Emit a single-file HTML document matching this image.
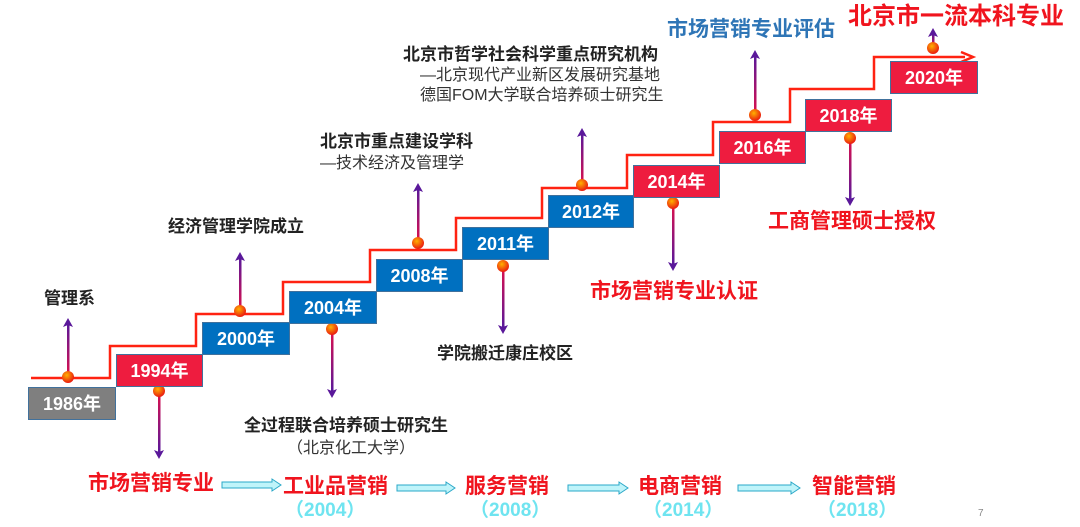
<!DOCTYPE html>
<html><head><meta charset="utf-8">
<style>
body{margin:0;background:#fff;}
#c{position:relative;width:1080px;height:527px;overflow:hidden;font-family:"Liberation Sans","Noto Sans CJK SC",sans-serif;}
.t{position:absolute;white-space:nowrap;line-height:1;}
.b{font-weight:bold;font-size:17px;color:#222;}
.n{font-size:16px;color:#333;}
.r{font-weight:bold;font-size:21px;color:#f0141e;}
.cy{font-weight:bold;font-size:19px;color:#6fe4f0;}
.y{position:absolute;color:#fff;font-weight:bold;font-size:18px;text-align:center;line-height:33px;height:33px;border:1px solid #41719c;box-sizing:border-box;}
.g{background:#7f7f7f}.rd{background:#ee1c3f}.bl{background:#0070c0}
</style></head><body><div id="c">
<svg width="1080" height="527" style="position:absolute;left:0;top:0">
<defs>
<radialGradient id="dg" cx="0.4" cy="0.35" r="0.7"><stop offset="0" stop-color="#ffb000"/><stop offset="1" stop-color="#e81010"/></radialGradient>
<linearGradient id="up" x1="0" y1="1" x2="0" y2="0"><stop offset="0" stop-color="#e0104a"/><stop offset="1" stop-color="#5a189a"/></linearGradient>
<linearGradient id="dn" x1="0" y1="0" x2="0" y2="1"><stop offset="0" stop-color="#e0104a"/><stop offset="1" stop-color="#5a189a"/></linearGradient>
</defs>
<path d="M31 378 H110 V346 H196 V314 H283 V282 H370 V250 H456 V218 H542 V188 H627 V155 H713 V122 H790 V89 H874 V57 H965" fill="none" stroke="#f21" stroke-width="2.5"/>
<path d="M961 52 L973 57 L961 62" fill="none" stroke="#f21" stroke-width="2.5"/>
<g>
<rect x="67" y="324" width="2.5" height="53" fill="url(#up)"/>
<rect x="239" y="258" width="2.5" height="53" fill="url(#up)"/>
<rect x="417" y="189" width="2.5" height="54" fill="url(#up)"/>
<rect x="581" y="134" width="2.5" height="51" fill="url(#up)"/>
<rect x="754" y="56" width="2.5" height="59" fill="url(#up)"/>
<rect x="932" y="34" width="2.5" height="14" fill="url(#up)"/>
<rect x="158" y="391" width="2.5" height="61" fill="url(#dn)"/>
<rect x="331" y="329" width="2.5" height="62" fill="url(#dn)"/>
<rect x="502" y="266" width="2.5" height="61" fill="url(#dn)"/>
<rect x="672" y="203" width="2.5" height="61" fill="url(#dn)"/>
<rect x="849" y="138" width="2.5" height="61" fill="url(#dn)"/>
</g>
<g fill="#5a189a">
<path d="M63 327 L68 318 L73 327 L68 325Z"/><path d="M235 261 L240 252 L245 261 L240 259Z"/><path d="M413 192 L418 183 L423 192 L418 190Z"/>
<path d="M577 137 L582 128 L587 137 L582 135Z"/><path d="M750 59 L755 50 L760 59 L755 57Z"/><path d="M928 37 L933 28 L938 37 L933 35Z"/>
<path d="M154 450 L159 459 L164 450 L159 452Z"/><path d="M327 389 L332 398 L337 389 L332 391Z"/><path d="M498 325 L503 334 L508 325 L503 327Z"/>
<path d="M668 262 L673 271 L678 262 L673 264Z"/><path d="M845 197 L850 206 L855 197 L850 199Z"/>
</g>
<g fill="url(#dg)">
<circle cx="68" cy="377" r="6"/><circle cx="240" cy="311" r="6"/><circle cx="418" cy="243" r="6"/><circle cx="582" cy="185" r="6"/><circle cx="755" cy="115" r="6"/><circle cx="933" cy="48" r="6"/>
<circle cx="159" cy="391" r="6"/><circle cx="332" cy="329" r="6"/><circle cx="503" cy="266" r="6"/><circle cx="673" cy="203" r="6"/><circle cx="850" cy="138" r="6"/>
</g>
<g fill="#bff4fa" stroke="#2aa8c8" stroke-width="1">
<path d="M222 482 H272 V479 L281 485 L272 491 V488 H222 Z"/>
<path d="M397 485 H446 V482 L455 488 L446 494 V491 H397 Z"/>
<path d="M568 485 H619 V482 L628 488 L619 494 V491 H568 Z"/>
<path d="M738 485 H791 V482 L800 488 L791 494 V491 H738 Z"/>
</g>
</svg>
<div class="y g" style="left:28px;top:387px;width:88px">1986年</div>
<div class="y rd" style="left:116px;top:354px;width:87px">1994年</div>
<div class="y bl" style="left:202px;top:322px;width:88px">2000年</div>
<div class="y bl" style="left:289px;top:291px;width:88px">2004年</div>
<div class="y bl" style="left:376px;top:259px;width:87px">2008年</div>
<div class="y bl" style="left:462px;top:227px;width:87px">2011年</div>
<div class="y bl" style="left:548px;top:195px;width:86px">2012年</div>
<div class="y rd" style="left:633px;top:165px;width:87px">2014年</div>
<div class="y rd" style="left:719px;top:131px;width:87px">2016年</div>
<div class="y rd" style="left:805px;top:99px;width:87px">2018年</div>
<div class="y rd" style="left:890px;top:61px;width:88px">2020年</div>

<div class="t b" style="left:44px;top:290px">管理系</div>
<div class="t b" style="left:168px;top:218px">经济管理学院成立</div>
<div class="t b" style="left:320px;top:133px">北京市重点建设学科</div>
<div class="t n" style="left:320px;top:156px">—技术经济及管理学</div>
<div class="t b" style="left:403px;top:46px">北京市哲学社会科学重点研究机构</div>
<div class="t n" style="left:420px;top:68px">—北京现代产业新区发展研究基地</div>
<div class="t n" style="left:420px;top:88px">德国FOM大学联合培养硕士研究生</div>
<div class="t" style="left:667px;top:19px;font-size:21px;font-weight:bold;color:#2e75b6">市场营销专业评估</div>
<div class="t r" style="left:848px;top:5px;font-size:24px">北京市一流本科专业</div>
<div class="t r" style="left:768px;top:211px">工商管理硕士授权</div>
<div class="t r" style="left:590px;top:281px">市场营销专业认证</div>
<div class="t b" style="left:437px;top:345px">学院搬迁康庄校区</div>
<div class="t b" style="left:244px;top:417px">全过程联合培养硕士研究生</div>
<div class="t n" style="left:287px;top:441px">（北京化工大学）</div>

<div class="t r" style="left:88px;top:473px">市场营销专业</div>
<div class="t r" style="left:283px;top:476px">工业品营销</div>
<div class="t cy" style="left:285px;top:501px">（2004）</div>
<div class="t r" style="left:465px;top:476px">服务营销</div>
<div class="t cy" style="left:470px;top:501px">（2008）</div>
<div class="t r" style="left:638px;top:476px">电商营销</div>
<div class="t cy" style="left:643px;top:501px">（2014）</div>
<div class="t r" style="left:812px;top:476px">智能营销</div>
<div class="t cy" style="left:817px;top:501px">（2018）</div>
<div class="t" style="left:978px;top:509px;font-size:10px;color:#888">7</div>
</div></body></html>
